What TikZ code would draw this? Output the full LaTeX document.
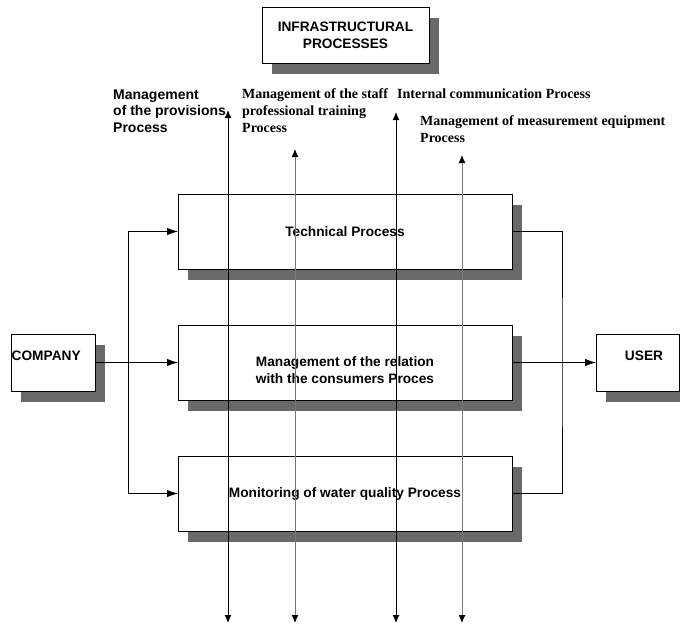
\documentclass[tikz,border=0pt]{standalone}
\usepackage{fontspec}
\setmainfont{Liberation Sans}
\newfontfamily\timesb{Liberation Serif}
\usetikzlibrary{arrows.meta,shadows}

\definecolor{shade}{RGB}{105,105,105}
\definecolor{midline}{RGB}{120,120,120}

\newcommand{\boxfont}{\bfseries\fontsize{13.7}{17}\selectfont}
\newcommand{\sansfont}{\bfseries\fontsize{14}{16.5}\selectfont}
\newcommand{\serfont}{\timesb\bfseries\fontsize{14}{17}\selectfont}

\tikzset{
  procbox/.style={draw, fill=white, line width=0.9pt, inner sep=0pt, outer sep=0pt,
    drop shadow={shadow xshift=10pt, shadow yshift=-11pt, fill=shade, opacity=1},
    font=\boxfont, align=center},
  conn/.style={line width=0.9pt},
  arr/.style={conn, -{Latex[length=11pt,width=7.5pt]}},
  vline/.style={line width=1pt, {Latex[length=8pt,width=7pt,color=black]}-{Latex[length=8pt,width=7pt,color=black]}},
  lbl/.style={anchor=north west, inner sep=0pt, align=left}
}

\begin{document}
\begin{tikzpicture}[x=1pt, y=-1pt]
\useasboundingbox (0,0) rectangle (680,625);

% boxes
\node[procbox, minimum width=167, minimum height=56] (infra) at (345.5,35) {INFRASTRUCTURAL\\PROCESSES};
\node[procbox, minimum width=334, minimum height=75] (tech) at (345,231.5) {Technical Process};
\node[procbox, minimum width=334, minimum height=75] (rel) at (345,362.5) {};
\node[procbox, minimum width=334, minimum height=75] (mon) at (345,493.5) {Monitoring of water quality Process};
\node[procbox, minimum width=84, minimum height=57] (company) at (53,362.5) {};
\node[procbox, minimum width=83, minimum height=57] (user) at (637.5,362.5) {};

\node[font=\boxfont, align=center, inner sep=0pt] (relt) at (345,370) {Management of the relation\\with the consumers Proces};
\node[font=\boxfont, anchor=west, inner sep=0pt] (companyt) at (11.5,356) {COMPANY};
\node[font=\boxfont, inner sep=0pt] (usert) at (644,356) {USER};

% infrastructural processes
\node[lbl, font=\sansfont] (lprov) at (113,89.5) {Management\\of the provisions\\Process};
\node[lbl, font=\serfont] (lstaff) at (242,88.5) {Management of the staff\\professional training\\Process};
\node[lbl, font=\serfont] (lcomm) at (397,88.5) {Internal communication Process};
\node[lbl, font=\serfont] (lmeas) at (420,115.5) {Management of measurement equipment\\Process};

\foreach \i/\x/\yt/\c in {1/228/110/black, 2/295/149/midline, 3/396/112/black, 4/462/155/midline} {
  \coordinate (t\i) at (\x,\yt);
  \coordinate (b\i) at (\x,623);
  \draw[vline, draw=\c] (t\i) -- (b\i);
}

% company -> processes
\coordinate (ljoin) at (128,362.5);
\draw[arr] (company.east) -- (rel.west);
\draw[arr] (ljoin) |- (tech.west);
\draw[arr] (ljoin) |- (mon.west);

% processes -> user
\coordinate (rjoin) at (562,362.5);
\draw[conn] (tech.east) -| (rjoin) |- (mon.east);
\draw[arr] (rel.east) -- (user.west);

\end{tikzpicture}
\end{document}
